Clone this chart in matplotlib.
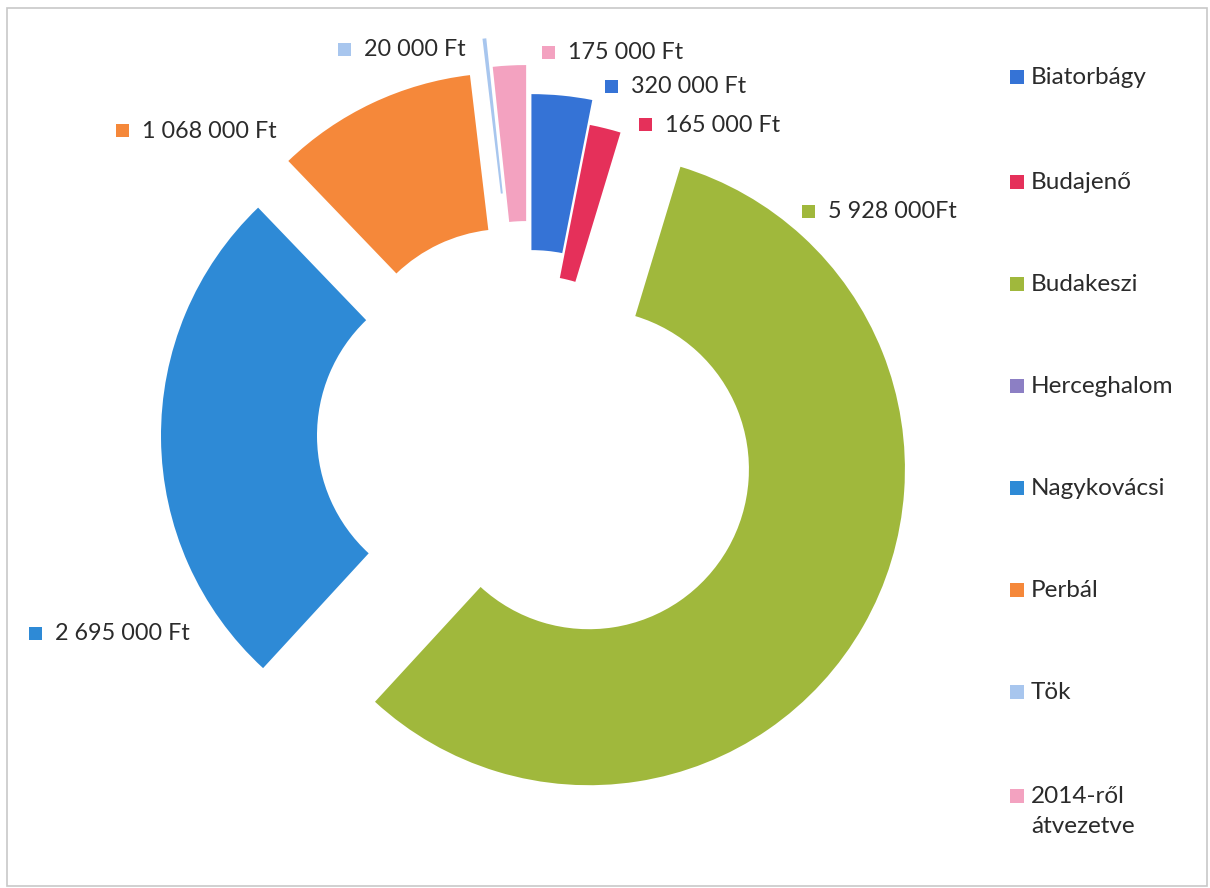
import matplotlib
matplotlib.use("Agg")
import matplotlib.pyplot as plt
from matplotlib.patches import Rectangle

plt.rcParams['font.family'] = ['Lato', 'DejaVu Sans']

# data
towns = ['Biatorbágy', 'Budajenő', 'Budakeszi', 'Herceghalom',
         'Nagykovácsi', 'Perbál', 'Tök', '2014-ről\nátvezetve']
amounts = [320000, 165000, 5928000, 0, 2695000, 1068000, 20000, 175000]
value_labels = ['320 000 Ft', '165 000 Ft', '5 928 000Ft', '',
                '2 695 000 Ft', '1 068 000 Ft', '20 000 Ft', '175 000 Ft']
colors = ['#3573D6', '#E5305A', '#A0B83C', '#8C7FC4',
          '#2E8AD6', '#F5883A', '#A8C6EE', '#F3A2C0']

# chart is laid out in pixel units (y measured from bottom)
W, H = 1210, 888
R = 316
explode = [25, 0, 69, 0, 52, 51, 83, 54]

fig = plt.figure(figsize=(W / 100, H / 100), dpi=100)
ax = fig.add_axes([0, 0, 1, 1])

ax.pie(amounts, colors=colors, explode=explode, startangle=90, counterclock=False,
       center=(529, H - 435), radius=R, frame=True,
       wedgeprops=dict(width=156, linewidth=0))
ax.set_xlim(0, W)
ax.set_ylim(0, H)
ax.set_aspect('equal')
ax.axis('off')

# border of the chart area
ax.add_patch(Rectangle((7, H - 886), 1200, 878, fill=False, edgecolor='#C8C8C8', lw=1.2))

txt = '#2B2B2B'
fs = 16.8

# data labels (square + text)
label_pos = [(611, 87), (645, 125), (808, 212), None,
             (35, 633), (122, 131), (344, 50), (548, 53)]
for lab, col, pos in zip(value_labels, colors, label_pos):
    if pos is None:
        continue
    x, y = pos
    ax.add_patch(Rectangle((x - 6.5, H - y - 6.5), 13, 13, color=col, lw=0))
    ax.text(x + 20, H - y, lab, fontsize=fs, color=txt, va='center', ha='left')

# legend
leg_y = [77, 182, 284, 386, 488, 590, 692, 796]
for name, col, y in zip(towns, colors, leg_y):
    ax.add_patch(Rectangle((1010, H - y - 7), 14, 14, color=col, lw=0))
    ax.text(1031, H - y + 10, name, fontsize=17.5, color=txt, va='top', ha='left',
            linespacing=1.55)

fig.savefig('out.png', dpi=100)
